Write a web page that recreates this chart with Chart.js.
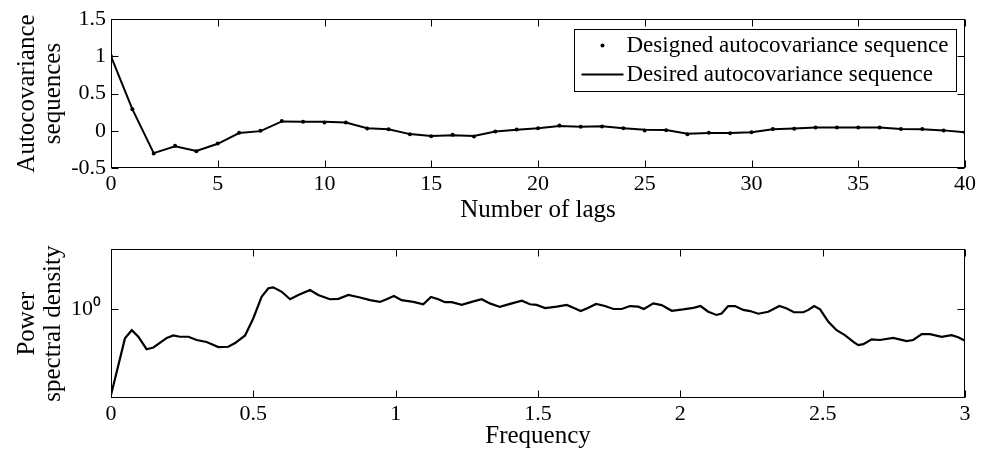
<!DOCTYPE html>
<html>
<head>
<meta charset="utf-8">
<script src="https://cdn.jsdelivr.net/npm/chart.js@4.4.1/dist/chart.umd.min.js"></script>
<style>
  html, body { margin: 0; padding: 0; background: #fff; }
  .box { position: absolute; left: 0; width: 986px; height: 226px; }
</style>
</head>
<body>
<div class="box" style="top:0"><canvas id="chartLags"></canvas></div>
<div class="box" style="top:226px"><canvas id="chartPsd"></canvas></div>
<script>
/* DATA */

// top plot : autocovariance vs number of lags
let lags = [0, 1, 2, 3, 4, 5, 6, 7, 8, 9, 10, 11, 12, 13, 14, 15, 16, 17, 18, 19, 20,
            21, 22, 23, 24, 25, 26, 27, 28, 29, 30, 31, 32, 33, 34, 35, 36, 37, 38, 39, 40];
let designed = [1.0, 0.287, -0.306, -0.20, -0.275, -0.17, -0.028, 0.0, 0.13, 0.12, 0.11,
                0.11, 0.03, 0.02, -0.046, -0.073, -0.055, -0.077, -0.01, 0.017, 0.035,
                0.07, 0.053, 0.058, 0.035, 0.004, 0.008, -0.046, -0.028, -0.032, -0.019,
                0.022, 0.026, 0.044, 0.044, 0.044, 0.044, 0.022, 0.022, 0.004, -0.023];
let desired = [1.0, 0.29, -0.30, -0.21, -0.27, -0.175, -0.03, -0.005, 0.125, 0.12, 0.12,
               0.11, 0.035, 0.02, -0.045, -0.07, -0.06, -0.07, -0.01, 0.015, 0.035,
               0.065, 0.055, 0.06, 0.035, 0.012, 0.01, -0.04, -0.03, -0.03, -0.02,
               0.02, 0.03, 0.045, 0.045, 0.045, 0.045, 0.025, 0.02, 0.005, -0.02];

// bottom plot : power spectral density vs frequency
let freq = [0, 0.049, 0.073, 0.096, 0.125, 0.149, 0.196, 0.219, 0.242, 0.272,
            0.301, 0.336, 0.377, 0.412, 0.436, 0.471, 0.5, 0.529, 0.553, 0.570,
            0.6, 0.629, 0.658, 0.699, 0.728, 0.769, 0.799, 0.834, 0.875, 0.910,
            0.945, 0.968, 0.994, 1.021, 1.062, 1.097, 1.124, 1.150, 1.173, 1.197,
            1.232, 1.267, 1.302, 1.331, 1.366, 1.402, 1.443, 1.472, 1.495, 1.525,
            1.566, 1.601, 1.624, 1.650, 1.677, 1.704, 1.735, 1.765, 1.794, 1.823,
            1.852, 1.872, 1.905, 1.934, 1.970, 2.010, 2.046, 2.071, 2.098, 2.127,
            2.145, 2.168, 2.192, 2.221, 2.245, 2.274, 2.309, 2.348, 2.374, 2.399,
            2.432, 2.450, 2.470, 2.491, 2.520, 2.549, 2.578, 2.608, 2.625, 2.643,
            2.672, 2.701, 2.748, 2.795, 2.818, 2.848, 2.877, 2.918, 2.953, 2.976, 3.0];
let psd = [0.513, 0.795, 0.847, 0.805, 0.731, 0.741, 0.798, 0.813, 0.805, 0.805,
           0.785, 0.773, 0.743, 0.745, 0.767, 0.813, 0.929, 1.096, 1.172, 1.180,
           1.140, 1.076, 1.112, 1.156, 1.112, 1.076, 1.079, 1.112, 1.091, 1.069,
           1.054, 1.076, 1.104, 1.069, 1.054, 1.035, 1.096, 1.076, 1.052, 1.052,
           1.030, 1.054, 1.076, 1.042, 1.014, 1.038, 1.064, 1.035, 1.030, 1.005,
           1.016, 1.030, 1.007, 0.982, 1.007, 1.038, 1.021, 0.998, 0.998, 1.021,
           1.016, 0.998, 1.042, 1.028, 0.984, 0.995, 1.007, 1.021, 0.977, 0.953,
           0.964, 1.021, 1.021, 0.991, 0.982, 0.962, 0.977, 1.021, 1.002, 0.973,
           0.973, 0.991, 1.021, 0.995, 0.904, 0.847, 0.815, 0.774, 0.755, 0.760,
           0.789, 0.785, 0.798, 0.778, 0.785, 0.822, 0.822, 0.805, 0.815, 0.802, 0.780];

Chart.defaults.font.family = '"Liberation Serif", "Times New Roman", serif';
Chart.defaults.color = '#000';

// plain matlab-like numbers: 1 not 1.0
function plainNumber(v) {
    return String(+Number(v).toFixed(3));
}

// box round the plot + inward tick marks on all four sides
const boxTicks = {
    id: 'boxTicks',
    afterDraw(chart) {
        const ctx = chart.ctx;
        const a = chart.chartArea;
        const len = 7;
        const L = Math.round(a.left) + 0.5, R = Math.round(a.right) - 0.5;
        const T = Math.round(a.top) + 0.5, B = Math.round(a.bottom) - 0.5;
        ctx.save();
        ctx.strokeStyle = '#000';
        ctx.lineWidth = 1;
        ctx.strokeRect(L, T, R - L, B - T);
        ctx.beginPath();
        Object.values(chart.scales).forEach(scale => {
            scale.ticks.forEach(t => {
                const p = Math.round(scale.getPixelForValue(t.value)) + 0.5;
                if (scale.isHorizontal()) {
                    ctx.moveTo(p, B); ctx.lineTo(p, B - len);
                    ctx.moveTo(p, T); ctx.lineTo(p, T + len);
                } else {
                    ctx.moveTo(L, p); ctx.lineTo(L + len, p);
                    ctx.moveTo(R, p); ctx.lineTo(R - len, p);
                }
            });
        });
        ctx.stroke();
        ctx.restore();
    }
};

// legend in a box, top right inside the plot
const boxLegend = {
    id: 'boxLegend',
    afterDraw(chart) {
        const ctx = chart.ctx;
        const a = chart.chartArea;
        const ds = chart.data.datasets;
        ctx.save();
        ctx.font = '23px "Liberation Serif", "Times New Roman", serif';
        const textW = Math.max(...ds.map(d => ctx.measureText(d.label).width));
        const w = Math.round(52 + textW + 8), h = 62;
        const x0 = Math.round(a.right - 9 - w) + 0.5, y0 = Math.round(a.top + 10) + 0.5;
        ctx.fillStyle = '#fff';
        ctx.fillRect(x0, y0, w, h);
        ctx.strokeStyle = '#000';
        ctx.lineWidth = 1;
        ctx.strokeRect(x0, y0, w, h);
        ds.forEach((d, i) => {
            const cy = y0 + 16 + i * 29;
            ctx.fillStyle = '#000';
            if (d.showLine === false) {
                ctx.beginPath();
                ctx.arc(x0 + 28, cy, 2, 0, Math.PI * 2);
                ctx.fill();
            } else {
                ctx.beginPath();
                ctx.lineWidth = 2;
                ctx.moveTo(x0 + 7, cy);
                ctx.lineTo(x0 + 49, cy);
                ctx.stroke();
            }
            ctx.textBaseline = 'middle';
            ctx.textAlign = 'left';
            ctx.fillText(d.label, x0 + 52, cy);
        });
        ctx.restore();
    }
};

const noGrid = { display: false, drawTicks: false };

/* GRAPHIQUE AUTOCOVARIANCE */

new Chart(document.getElementById('chartLags'), {
    type: 'scatter',
    data: {
        datasets: [
            {
                label: 'Designed autocovariance sequence',
                data: lags.map((l, i) => ({ x: l, y: designed[i] })),
                showLine: false,
                pointRadius: 2,
                pointBorderWidth: 0,
                pointBackgroundColor: '#000',
                borderColor: '#000',
                backgroundColor: '#000'
            },
            {
                label: 'Desired autocovariance sequence',
                data: lags.map((l, i) => ({ x: l, y: desired[i] })),
                showLine: true,
                pointRadius: 0,
                borderColor: '#000',
                borderWidth: 2
            }
        ]
    },
    options: {
        responsive: true,
        maintainAspectRatio: false,
        animation: false,
        events: [],
        layout: { padding: { left: 0, right: 21, top: 19, bottom: 0 } },
        plugins: { legend: { display: false }, tooltip: { enabled: false } },
        scales: {
            x: {
                type: 'linear', min: 0, max: 40,
                grid: noGrid, border: { display: false },
                ticks: { stepSize: 5, padding: 3, font: { size: 22 }, callback: plainNumber },
                title: { display: true, text: 'Number of lags', font: { size: 25, lineHeight: 1 }, padding: { top: 0, bottom: 3 } },
                afterFit: s => { s.height = 58; }
            },
            y: {
                min: -0.5, max: 1.5,
                grid: noGrid, border: { display: false },
                ticks: { stepSize: 0.5, padding: 5, font: { size: 22 }, callback: plainNumber },
                title: { display: true, text: ['Autocovariance', 'sequences'], font: { size: 25, lineHeight: 1.05 }, padding: { top: 14, bottom: 0 } },
                afterFit: s => { s.width = 111; }
            }
        }
    },
    plugins: [boxTicks, boxLegend]
});

/* GRAPHIQUE DENSITE SPECTRALE */

new Chart(document.getElementById('chartPsd'), {
    type: 'scatter',
    data: {
        datasets: [{
            label: 'Power spectral density',
            data: freq.map((f, i) => ({ x: f, y: psd[i] })),
            showLine: true,
            pointRadius: 0,
            borderColor: '#000',
            borderWidth: 2.2
        }]
    },
    options: {
        responsive: true,
        maintainAspectRatio: false,
        animation: false,
        events: [],
        layout: { padding: { left: 0, right: 21, top: 23, bottom: 0 } },
        plugins: { legend: { display: false }, tooltip: { enabled: false } },
        scales: {
            x: {
                type: 'linear', min: 0, max: 3,
                grid: noGrid, border: { display: false },
                ticks: { stepSize: 0.5, padding: 3, font: { size: 22 }, callback: plainNumber },
                title: { display: true, text: 'Frequency', font: { size: 25, lineHeight: 1 }, padding: { top: 0, bottom: 3 } },
                afterFit: s => { s.height = 54; }
            },
            y: {
                type: 'logarithmic', min: 0.5012, max: 1.5849, bounds: 'data',
                grid: noGrid, border: { display: false },
                afterBuildTicks: s => { s.ticks = [{ value: 1 }]; },
                ticks: { padding: 10, font: { size: 22 }, callback: v => (v === 1 ? '10\u2070' : '') },
                title: { display: true, text: ['Power', 'spectral density'], font: { size: 25, lineHeight: 1.05 }, padding: { top: 14, bottom: 0 } },
                afterFit: s => { s.width = 111; }
            }
        }
    },
    plugins: [boxTicks]
});
</script>
</body>
</html>
